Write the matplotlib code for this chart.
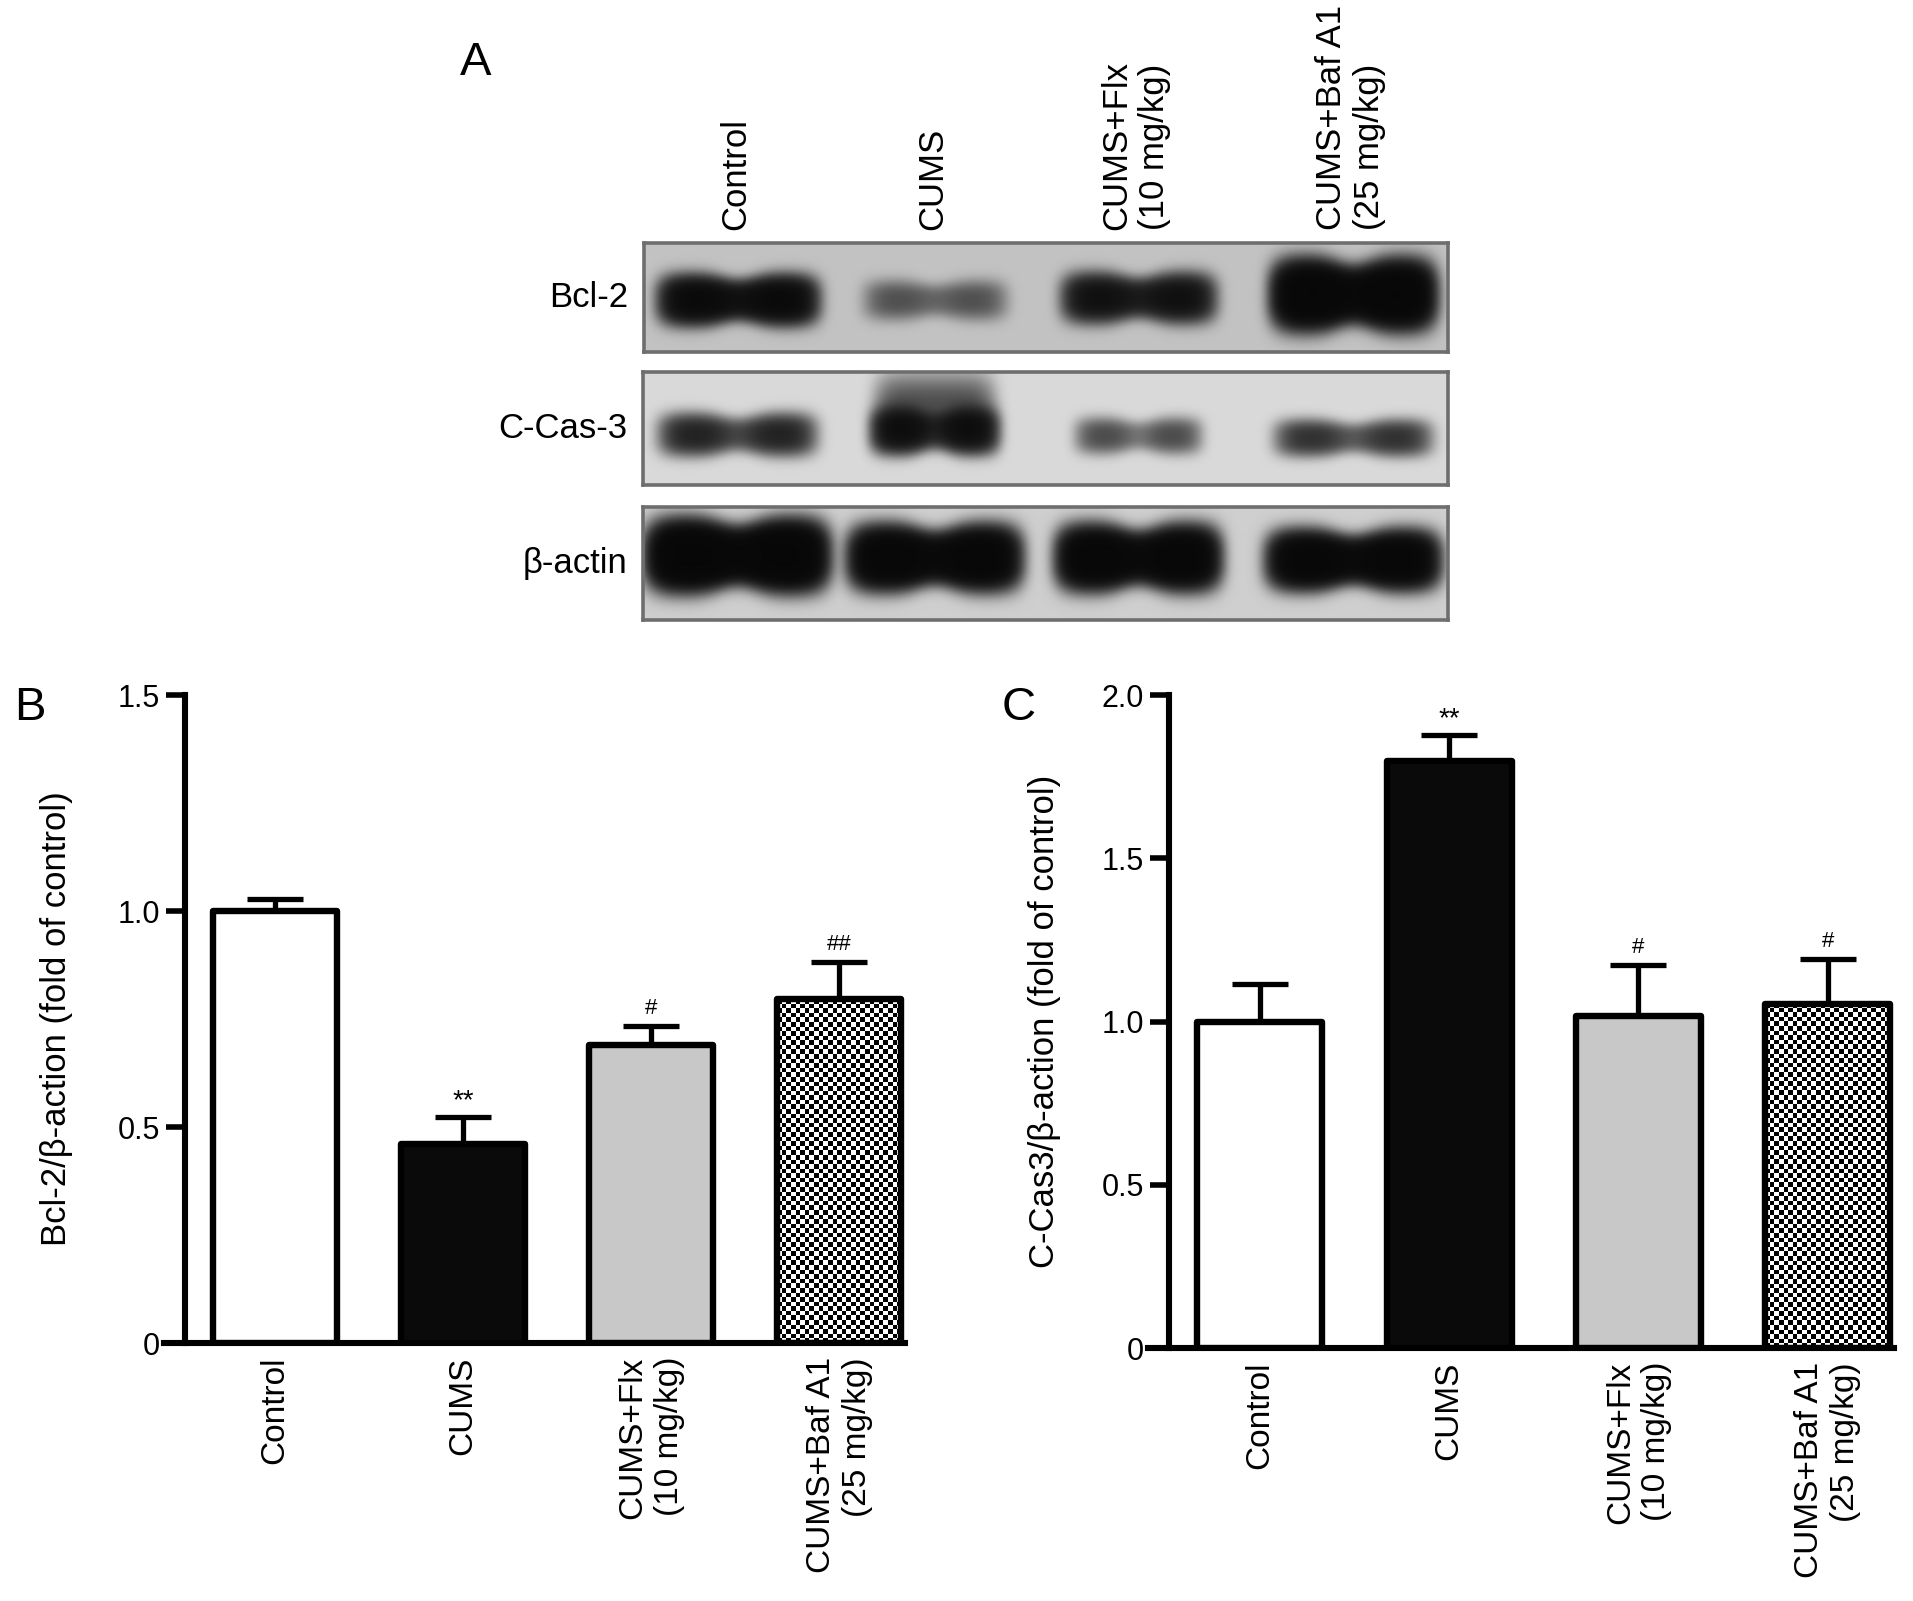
"""Western blot + Bcl-2 / C-Cas3 bar charts (panels A-C)."""

import matplotlib.pyplot as plt
import numpy as np

plt.rcParams["font.family"] = ["Liberation Sans", "DejaVu Sans"]

W, H = 1913, 1601

GROUPS = ["Control", "CUMS", "CUMS+Flx\n(10 mg/kg)", "CUMS+Baf A1\n(25 mg/kg)"]

BCL2_MEAN = [1.0, 0.46, 0.69, 0.796]
BCL2_SEM = [0.027, 0.064, 0.044, 0.087]
BCL2_MARKS = ["", "**", "#", "##"]

CCAS3_MEAN = [1.0, 1.798, 1.016, 1.055]
CCAS3_SEM = [0.115, 0.079, 0.157, 0.136]
CCAS3_MARKS = ["", "**", "#", "#"]

# blot band strength per lane (Control, CUMS, Flx, Baf A1)
BLOT_ROWS = ["Bcl-2", "C-Cas-3", "β-actin"]
BAND_BCL2 = [1.4, 0.32, 1.05, 2.2]
BAND_CCAS3 = [0.7, 1.1, 0.38, 0.55]
BAND_ACTIN = [2.4, 2.0, 2.0, 1.9]
SMEAR_CCAS3 = [0.0, 0.35, 0.0, 0.0]

LANES = [0.117, 0.362, 0.615, 0.882]
BAR_FACES = ["white", "#0a0a0a", "#c8c8c8", "checker"]


def px_axes(fig, left, top, right, bottom):
    return fig.add_axes([left / W, 1 - bottom / H, (right - left) / W, (bottom - top) / H])


def band_image(amps, widths, centers, heights, waist, bg, ny, nx, smear=None):
    yy, xx = np.mgrid[0:ny, 0:nx]
    x = xx / nx
    y = yy / ny
    dark = np.zeros((ny, nx))
    for i, (a, cx, w, yc, hh) in enumerate(zip(amps, LANES, widths, centers, heights)):
        u = (x - cx) / (w / 2)
        hprof = np.exp(-np.abs(u) ** 7)
        mid = np.exp(-(u / 0.32) ** 2)
        hh_eff = hh * (1 - 0.18 * mid)
        v = np.exp(-np.abs((y - yc) / hh_eff) ** 2.6)
        dark += a * hprof * (1 - waist * mid) * v
        if smear is not None and smear[i] > 0:
            dark += smear[i] * np.exp(-np.abs(u * 1.05) ** 6) * np.exp(-((y - yc + 0.25) / (hh * 1.3)) ** 2)
    return bg - (bg - 0.03) * (1 - np.exp(-3.0 * dark))


def draw_blot(fig):
    boxes = [(644, 243, 1448, 352), (643, 372, 1448, 485), (643, 507, 1448, 620)]
    images = [
        band_image(BAND_BCL2, [0.187, 0.17, 0.18, 0.19], [0.52, 0.52, 0.5, 0.47],
                   [0.2, 0.17, 0.2, 0.27], 0.25, 0.76, 109, 804),
        band_image(BAND_CCAS3, [0.185, 0.15, 0.15, 0.185], [0.55, 0.52, 0.56, 0.58],
                   [0.17, 0.18, 0.15, 0.15], 0.4, 0.85, 113, 805, SMEAR_CCAS3),
        band_image(BAND_ACTIN, [0.21, 0.2, 0.19, 0.2], [0.43, 0.45, 0.45, 0.47],
                   [0.26, 0.24, 0.24, 0.22], 0.25, 0.81, 113, 805),
    ]
    axes = []
    for box, img, name in zip(boxes, images, BLOT_ROWS):
        ax = px_axes(fig, *box)
        ax.imshow(img, cmap="gray", vmin=0, vmax=1, aspect="auto", interpolation="bilinear")
        ax.set_xticks([])
        ax.set_yticks([])
        for sp in ax.spines.values():
            sp.set_color("#6e6e6e")
            sp.set_linewidth(2.6)
        ax.annotate(name, xy=(0, 0.5), xycoords="axes fraction", xytext=(-11, 0),
                    textcoords="offset points", ha="right", va="center", fontsize=25)
        axes.append(ax)

    top = axes[0]
    for lane, label in zip(LANES, GROUPS):
        top.annotate(label, xy=(lane, 1), xycoords="axes fraction", xytext=(-2, 9),
                     textcoords="offset points", rotation=90, ha="center", va="bottom",
                     ma="left", fontsize=25)


def draw_bars(fig, box, means, sems, marks, ymax, ylabel, label_x):
    ax = px_axes(fig, *box)
    x = np.arange(len(means))
    faces = ["none" if c == "checker" else c for c in BAR_FACES]
    bars = ax.bar(x, means, width=0.66, color=faces, edgecolor="black", linewidth=4.6, zorder=3)
    for bar in bars:
        bar.set_joinstyle("round")
    ax.errorbar(x, means, yerr=[np.zeros(len(sems)), sems], fmt="none", ecolor="black",
                elinewidth=3.8, capsize=20, capthick=3.8, zorder=2)

    ax.set_xlim(-0.59, 3.35)
    ax.set_ylim(0, ymax)

    # checkerboard fill for the Baf A1 bar
    for face, bar in zip(BAR_FACES, bars):
        if face != "checker":
            continue
        x0, x1 = bar.get_x(), bar.get_x() + bar.get_width()
        y1 = bar.get_height()
        p0 = ax.transData.transform((x0, 0))
        p1 = ax.transData.transform((x1, y1))
        nc = int(round(abs(p1[0] - p0[0]) / 4.6))
        nr = int(round(abs(p1[1] - p0[1]) / 4.6))
        chk = (np.add.outer(np.arange(nr), np.arange(nc)) % 2).astype(float)
        im = ax.imshow(chk, cmap="gray", vmin=0, vmax=1, extent=[x0, x1, 0, y1],
                       aspect="auto", interpolation="nearest", zorder=2.5)
        im.set_clip_path(bar)
    ax.set_xlim(-0.59, 3.35)
    ax.set_ylim(0, ymax)

    for i, m in enumerate(marks):
        if m:
            star = m.startswith("*")
            ax.annotate(m, xy=(i, means[i] + sems[i]), xytext=(0, 2 if star else 5),
                        textcoords="offset points", ha="center", va="bottom",
                        fontsize=20 if star else 16)

    ax.spines["top"].set_visible(False)
    ax.spines["right"].set_visible(False)
    ax.spines["left"].set_position(("data", -0.48))
    for s in ("left", "bottom"):
        ax.spines[s].set_linewidth(4.4)
    ticks = np.arange(0, ymax + 0.01, 0.5)
    ax.set_yticks(ticks)
    ax.set_yticklabels(["0"] + [f"{t:.1f}" for t in ticks[1:]])
    ax.tick_params(axis="y", length=14, width=4.0, labelsize=22, pad=4)
    ax.set_xticks(x)
    ax.set_xticklabels(GROUPS, rotation=90, ma="right", fontsize=24)
    ax.tick_params(axis="x", length=0, pad=10)
    ax.set_ylabel(ylabel, fontsize=25)
    ax.yaxis.set_label_coords(label_x, 0.5)
    return ax


def main():
    fig = plt.figure(figsize=(W / 100, H / 100), dpi=100)
    draw_blot(fig)
    draw_bars(fig, (164, 695, 905, 1343), BCL2_MEAN, BCL2_SEM, BCL2_MARKS, 1.5,
              "Bcl-2/β-action (fold of control)", -0.123)
    draw_bars(fig, (1148, 695, 1894, 1348), CCAS3_MEAN, CCAS3_SEM, CCAS3_MARKS, 2.0,
              "C-Cas3/β-action (fold of control)", -0.117)
    fig.text(476 / W, 1 - 63 / H, "A", fontsize=34, ha="center", va="center")
    fig.text(30 / W, 1 - 708 / H, "B", fontsize=34, ha="center", va="center")
    fig.text(1019 / W, 1 - 708 / H, "C", fontsize=34, ha="center", va="center")
    fig.savefig("out.png", dpi=100, facecolor="white")
    plt.close(fig)


if __name__ == "__main__":
    main()
